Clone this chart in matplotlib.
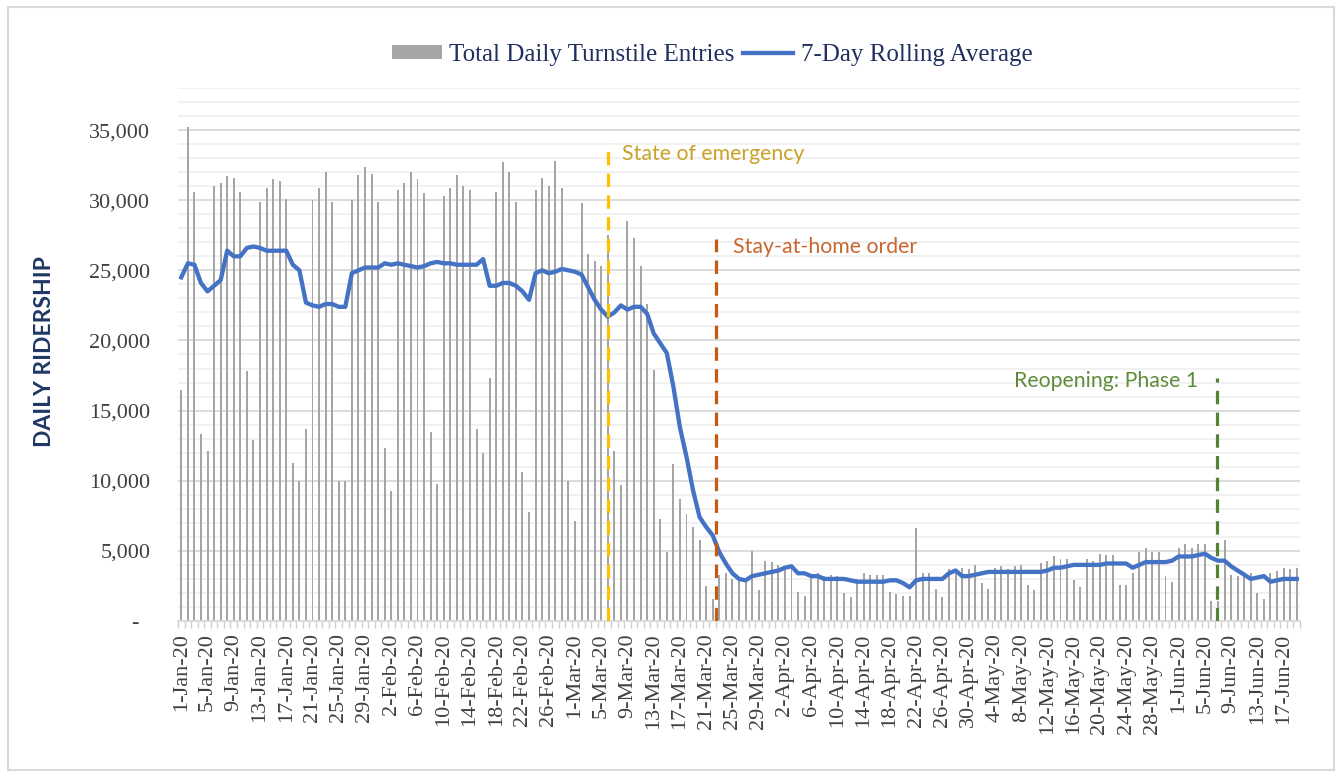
import matplotlib
matplotlib.use("Agg")
import matplotlib.pyplot as plt
import numpy as np
import pandas as pd
from matplotlib.patches import Rectangle

# ---------------- data ----------------
dates = pd.date_range("2020-01-01", "2020-06-19", freq="D")
date_labels = [f"{d.day}-{d.strftime('%b')}-{d.strftime('%y')}" for d in dates]

entries_k = [
    16.5, 35.2, 30.6, 13.3, 12.1, 31.0, 31.2, 31.7, 31.6, 30.6,
    17.8, 12.9, 29.9, 30.9, 31.5, 31.4, 30.1, 11.3, 10.0, 13.7,
    30.0, 30.9, 32.0, 29.9, 10.0, 10.0, 30.0, 31.8, 32.4, 31.9,
    29.9, 12.3, 9.3, 30.7, 31.2, 32.0, 31.5, 30.5, 13.5, 9.8,
    30.3, 30.9, 31.8, 31.0, 30.7, 13.7, 12.0, 17.3, 30.6, 32.7,
    32.0, 29.9, 10.6, 7.8, 30.7, 31.6, 31.0, 32.8, 30.9, 10.0,
    7.1, 29.8, 26.2, 25.7, 25.3, 27.5, 12.1, 9.7, 28.5, 27.3,
    25.3, 22.6, 17.9, 7.3, 4.9, 11.2, 8.7, 7.6, 6.7, 5.8,
    2.5, 1.6, 3.3, 3.4, 3.0, 2.9, 2.8, 5.0, 2.2, 4.3,
    4.2, 4.0, 3.8, 3.8, 2.1, 1.8, 3.2, 3.4, 3.2, 3.3,
    3.2, 2.0, 1.7, 3.0, 3.4, 3.3, 3.3, 3.3, 2.1, 1.9,
    1.8, 1.8, 6.6, 3.4, 3.4, 2.3, 1.7, 3.7, 3.6, 3.8,
    3.7, 4.0, 2.7, 2.3, 3.8, 3.9, 3.7, 3.9, 4.0, 2.6,
    2.2, 4.1, 4.3, 4.6, 4.4, 4.4, 2.9, 2.4, 4.4, 4.3,
    4.8, 4.7, 4.7, 2.6, 2.6, 3.4, 4.9, 5.2, 4.9, 4.9,
    3.2, 2.8, 5.2, 5.5, 5.2, 5.5, 5.5, 1.4, 1.4, 5.8,
    3.3, 3.2, 3.2, 3.4, 2.0, 1.6, 3.4, 3.6, 3.8, 3.7,
    3.8,
]

rolling_k = [
    24.5, 25.5, 25.4, 24.1, 23.5, 23.9, 24.3, 26.4, 26.0, 26.0,
    26.6, 26.7, 26.6, 26.4, 26.4, 26.4, 26.4, 25.4, 25.0, 22.7,
    22.5, 22.4, 22.6, 22.6, 22.4, 22.4, 24.8, 25.0, 25.2, 25.2,
    25.2, 25.5, 25.4, 25.5, 25.4, 25.3, 25.2, 25.3, 25.5, 25.6,
    25.5, 25.5, 25.4, 25.4, 25.4, 25.4, 25.8, 23.9, 23.9, 24.1,
    24.1, 23.9, 23.5, 22.9, 24.8, 25.0, 24.8, 24.9, 25.1, 25.0,
    24.9, 24.7, 23.8, 22.9, 22.2, 21.7, 22.0, 22.5, 22.2, 22.4,
    22.4, 21.9, 20.5, 19.8, 19.1, 16.7, 13.8, 11.7, 9.3, 7.4,
    6.7, 6.1, 4.9, 4.1, 3.4, 3.0, 2.9, 3.2, 3.3, 3.4,
    3.5, 3.6, 3.8, 3.9, 3.4, 3.4, 3.2, 3.2, 3.0, 3.0,
    3.0, 3.0, 2.9, 2.8, 2.8, 2.8, 2.8, 2.8, 2.9, 2.9,
    2.7, 2.4, 2.9, 3.0, 3.0, 3.0, 3.0, 3.4, 3.6, 3.2,
    3.2, 3.3, 3.4, 3.5, 3.5, 3.5, 3.5, 3.5, 3.5, 3.5,
    3.5, 3.5, 3.6, 3.8, 3.8, 3.9, 4.0, 4.0, 4.0, 4.0,
    4.0, 4.1, 4.1, 4.1, 4.1, 3.8, 4.0, 4.2, 4.2, 4.2,
    4.2, 4.3, 4.6, 4.6, 4.6, 4.7, 4.8, 4.5, 4.3, 4.3,
    3.9, 3.6, 3.3, 3.0, 3.1, 3.2, 2.8, 2.9, 3.0, 3.0,
    3.0,
]

entries = [v * 1000 for v in entries_k]
rolling = [v * 1000 for v in rolling_k]

event_labels = ["State of emergency", "Stay-at-home order", "Reopening: Phase 1"]
event_pos = [65.0, 81.5, 157.8]          # day index (from 1-Jan-20)
event_top = [34100, 27200, 17300]
event_label_y = [33300, 26650, 17100]
event_colors = ["#FFC000", "#C55A11", "#548235"]
event_text_colors = ["#C9A227", "#C8662E", "#5E8C3A"]

y_ticks = [0, 5000, 10000, 15000, 20000, 25000, 30000, 35000]
y_tick_labels = ["-  ", "5,000", "10,000", "15,000", "20,000", "25,000", "30,000", "35,000"]

# ---------------- figure ----------------
W, H = 1342, 777
fig = plt.figure(figsize=(W / 100, H / 100), dpi=100)
fig.patch.set_facecolor("white")

ax = fig.add_axes([178 / W, 1 - 621 / H, (1300 - 178) / W, (621 - 88) / H])
x = np.arange(len(dates))

# gridlines
ax.set_ylim(0, 38000)
ax.set_xlim(-0.5, len(dates) - 0.5)
for yv in range(1000, 38001, 1000):
    if yv % 5000 == 0:
        ax.axhline(yv, color="#D9D9D9", lw=1.3, zorder=0)
    else:
        ax.axhline(yv, color="#F0F0F0", lw=1.3, zorder=0)

bars = ax.bar(x, entries, width=0.3, color="#A5A5A5", zorder=2,
              label="Total Daily Turnstile Entries")
line, = ax.plot(x, rolling, color="#4472C4", lw=3.1, zorder=4,
                solid_joinstyle="round", label="7-Day Rolling Average")

# event lines
text_dx = [2.2, 2.6, -2.8]
for pos, top, ty, c, tc, lab, dx, ha in zip(
        event_pos, event_top, event_label_y, event_colors, event_text_colors,
        event_labels, text_dx, ["left", "left", "right"]):
    ax.plot([pos, pos], [0, top], color=c, lw=2.3, ls=(0, (4.2, 2.6)), zorder=5)
    ax.text(pos + dx, ty, lab, color=tc, fontsize=15.3, family="Lato",
            ha=ha, va="center", zorder=6)

# axes styling
for s in ["top", "right", "left"]:
    ax.spines[s].set_visible(False)
ax.spines["bottom"].set_color("#D9D9D9")
ax.spines["bottom"].set_linewidth(1.3)
ax.spines["bottom"].set_zorder(3)

ax.set_yticks(y_ticks)
ax.set_yticklabels(y_tick_labels)
ax.tick_params(axis="y", length=0, pad=20, labelsize=16, labelcolor="#404040")
for t in ax.get_yticklabels():
    t.set_family("Liberation Serif")

ax.set_xticks(x[::4])
ax.set_xticklabels(date_labels[::4], rotation=90, family="Liberation Serif")
ax.set_xticks(np.arange(-0.5, len(dates), 1), minor=True)
ax.tick_params(axis="x", which="major", length=0, pad=9, labelsize=16,
               labelcolor="#404040")
ax.tick_params(axis="x", which="minor", length=5, width=1, color="#D0D0D0")

fig.text(45 / W, 1 - 352 / H, "DAILY RIDERSHIP", rotation=90, ha="center",
         va="center", family="Lato", fontweight="bold", fontsize=16.5,
         color="#1F3864")

leg = fig.legend(handles=[bars, line], loc="center",
                 bbox_to_anchor=(712 / W, 1 - 55 / H), ncol=2, frameon=False,
                 prop={"family": "Liberation Serif", "size": 18},
                 handlelength=2.0, handletextpad=0.3, columnspacing=0.35,
                 handleheight=0.5)
for t in leg.get_texts():
    t.set_color("#1F2F5F")

fig.patches.append(Rectangle((8 / W, 7 / H), (1334 - 8) / W, (770 - 7) / H,
                             transform=fig.transFigure, fill=False,
                             edgecolor="#D9D9D9", lw=1.5))

fig.savefig("out.png", dpi=100)
